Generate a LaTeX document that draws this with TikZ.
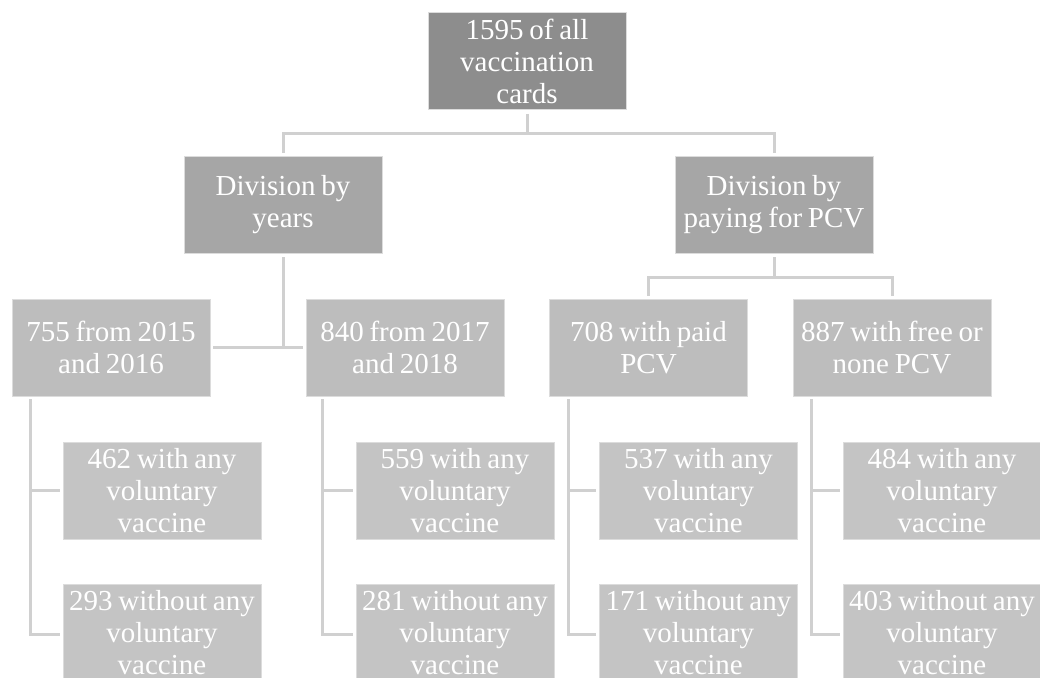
\documentclass[tikz,border=0pt]{standalone}
\usepackage{fontspec}
\setmainfont{Liberation Serif}[WordSpace=0.8]
\definecolor{cA}{RGB}{141,141,141}
\definecolor{cB}{RGB}{166,166,166}
\definecolor{cC}{RGB}{189,189,189}
\definecolor{cD}{RGB}{196,196,196}
\definecolor{lnc}{RGB}{208,208,208}
\definecolor{bdc}{RGB}{220,220,220}
\tikzset{
  box/.style={draw=bdc, line width=0.8pt, minimum width=198pt, minimum height=97pt,
    text width=198pt, align=flush center, inner sep=0pt, text=white,
    font=\fontsize{29}{32}\selectfont},
  boxA/.style={box, fill=cA},
  boxB/.style={box, fill=cB},
  boxC/.style={box, fill=cC},
  boxD/.style={box, fill=cD},
  conn/.style={draw=lnc, line width=3pt}
}
\begin{document}
\begin{tikzpicture}[x=1pt,y=-1pt]
\useasboundingbox (0,0) rectangle (1040,677);
\fill[white] (0,0) rectangle (1040,677);
\clip (0,0) rectangle (1040,677);
% nodes
\node[boxA] (top) at (527,61) {1595 of all\\vaccination\\cards};
\node[boxB] (L2a) at (283,204.5) {Division by\\years};
\node[boxB] (L2b) at (774,204.5) {Division by\\paying for PCV};
\node[boxC] (L3a) at (111,347.5) {755 from 2015\\and 2016};
\node[boxC] (L3b) at (405,347.5) {840 from 2017\\and 2018};
\node[boxC] (L3c) at (648.5,347.5) {708 with paid\\PCV};
\node[boxC] (L3d) at (892,347.5) {887 with free or\\none PCV};
\node[boxD] (L4a1) at (162,490.5) {462 with any\\voluntary\\vaccine};
\node[boxD] (L4a2) at (162,632.5) {293 without any\\voluntary\\vaccine};
\node[boxD] (L4b1) at (455,490.5) {559 with any\\voluntary\\vaccine};
\node[boxD] (L4b2) at (455,632.5) {281 without any\\voluntary\\vaccine};
\node[boxD] (L4c1) at (698.5,490.5) {537 with any\\voluntary\\vaccine};
\node[boxD] (L4c2) at (698.5,632.5) {171 without any\\voluntary\\vaccine};
\node[boxD] (L4d1) at (942,490.5) {484 with any\\voluntary\\vaccine};
\node[boxD] (L4d2) at (942,632.5) {403 without any\\voluntary\\vaccine};
% connector helper coordinates
\coordinate (h1) at (top.south |- 0,133);
\coordinate (h2) at (L2b.south |- 0,277);
\coordinate (va) at ([xshift=19pt]L3a.south west);
\coordinate (vb) at ([xshift=17pt]L3b.south west);
\coordinate (vc) at ([xshift=19pt]L3c.south west);
\coordinate (vd) at ([xshift=19pt]L3d.south west);
% top level
\draw[conn] ([yshift=-4pt]top.south) -- (h1);
\draw[conn] ([yshift=3pt]L2a.north) |- (h1) -| ([yshift=3pt]L2b.north);
% years
\draw[conn] ([yshift=-4pt]L2a.south) -- (L2a.south |- L3a.east);
\draw[conn] ([xshift=3pt]L3a.east) -- ([xshift=-3pt]L3b.west);
% paying
\draw[conn] ([yshift=-4pt]L2b.south) -- (h2);
\draw[conn] ([yshift=3pt]L3c.north) |- (h2) -| ([yshift=3pt]L3d.north);
% level 4
\draw[conn] ([yshift=-3pt]va) |- ([xshift=-3pt,yshift=-2pt]L4a2.west);
\draw[conn] (va |- L4a1.west) -- ([xshift=-3pt]L4a1.west);
\draw[conn] ([yshift=-3pt]vb) |- ([xshift=-3pt,yshift=-2pt]L4b2.west);
\draw[conn] (vb |- L4b1.west) -- ([xshift=-3pt]L4b1.west);
\draw[conn] ([yshift=-3pt]vc) |- ([xshift=-3pt,yshift=-2pt]L4c2.west);
\draw[conn] (vc |- L4c1.west) -- ([xshift=-3pt]L4c1.west);
\draw[conn] ([yshift=-3pt]vd) |- ([xshift=-3pt,yshift=-2pt]L4d2.west);
\draw[conn] (vd |- L4d1.west) -- ([xshift=-3pt]L4d1.west);
\end{tikzpicture}
\end{document}
